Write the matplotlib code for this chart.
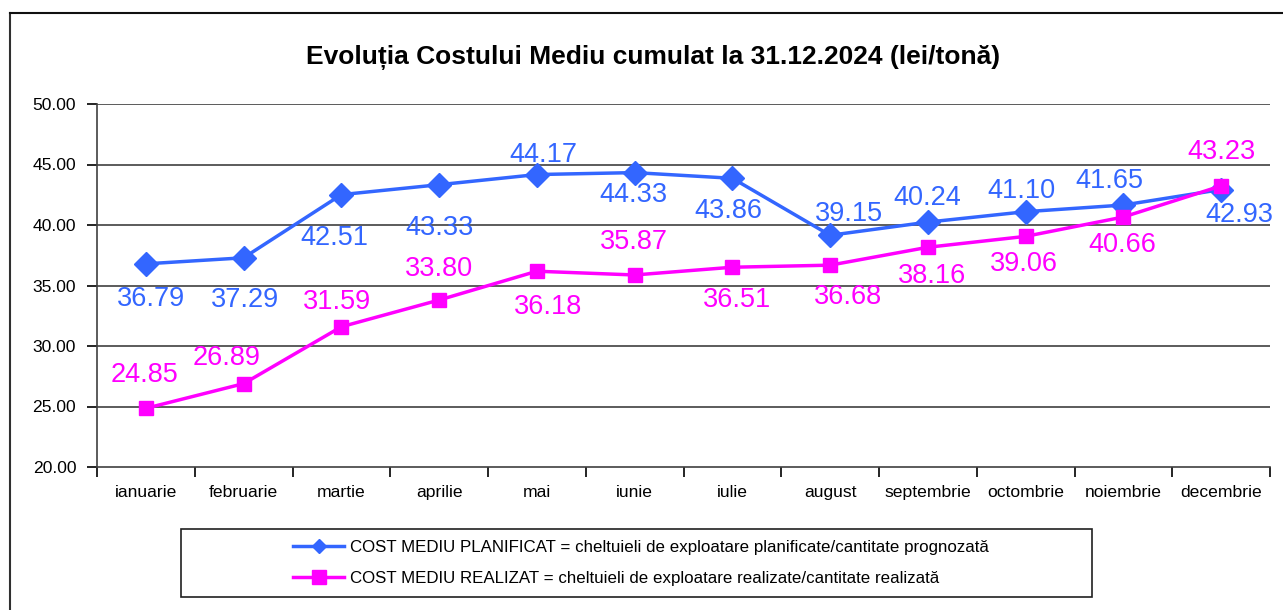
import matplotlib
matplotlib.use("Agg")
import matplotlib.pyplot as plt
import numpy as np
from matplotlib.lines import Line2D
from matplotlib.patches import Rectangle

luni = ["ianuarie", "februarie", "martie", "aprilie", "mai", "iunie", "iulie",
        "august", "septembrie", "octombrie", "noiembrie", "decembrie"]
planificat = [36.79, 37.29, 42.51, 43.33, 44.17, 44.33, 43.86, 39.15, 40.24, 41.10, 41.65, 42.93]
realizat = [24.85, 26.89, 31.59, 33.80, 36.18, 35.87, 36.51, 36.68, 38.16, 39.06, 40.66, 43.23]
eticheta_plan = "COST MEDIU PLANIFICAT = cheltuieli de exploatare planificate/cantitate prognozată"
eticheta_real = "COST MEDIU REALIZAT = cheltuieli de exploatare realizate/cantitate realizată"
titlu = "Evoluția Costului Mediu cumulat la 31.12.2024 (lei/tonă)"

# label offsets in pixels (dx, dy), dy positive = below the point
off_plan = [(5, 33), (1, 40), (-7, 41), (0, 41), (7, -22), (-1, 20), (-4, 31),
            (19, -23), (-1, -26), (-4, -23), (-14, -26), (18, 23)]
off_real = [(-1, -35), (-17, -28), (-4, -27), (0, -33), (11, 34), (-1, -35), (5, 31),
            (18, 30), (4, 27), (-2, 26), (-1, 26), (0, -36)]

albastru = "#3366FF"
magenta = "#FF00FF"

plt.rcParams["font.family"] = ["Liberation Sans", "DejaVu Sans"]

W, H = 1283, 610
fig = plt.figure(figsize=(W / 100, H / 100), dpi=100)
ax = fig.add_axes([97 / W, 1 - 467 / H, (1270 - 97) / W, (467 - 104) / H])

x = np.arange(len(luni))
ax.plot(x, planificat, color=albastru, lw=2.5, marker="D", ms=12, mec=albastru, zorder=3)
ax.plot(x, realizat, color=magenta, lw=2.5, marker="s", ms=10, mec=magenta, zorder=3)

for i in range(len(luni)):
    dx, dy = off_plan[i]
    ax.annotate(f"{planificat[i]:.2f}", (x[i], planificat[i]), xytext=(dx, -(dy + 9)),
                textcoords="offset pixels", ha="center", va="baseline",
                fontsize=19.5, color=albastru)
    dx, dy = off_real[i]
    ax.annotate(f"{realizat[i]:.2f}", (x[i], realizat[i]), xytext=(dx, -(dy + 9)),
                textcoords="offset pixels", ha="center", va="baseline",
                fontsize=19.5, color=magenta)

ax.set_xlim(-0.5, len(luni) - 0.5)
ax.set_ylim(20, 50)
ax.set_yticks(np.arange(20, 51, 5))
ax.set_yticklabels([f"{v:.2f}" for v in np.arange(20, 51, 5)])
ax.set_xticks(np.arange(-0.5, len(luni)))
ax.set_xticklabels([])
ax.set_xticks(x, minor=True)
ax.set_xticklabels(luni, minor=True)
ax.tick_params(axis="x", which="major", length=7, width=1.2, direction="out")
ax.tick_params(axis="x", which="minor", length=0, pad=13, labelsize=12.6)
ax.tick_params(axis="y", length=7, width=1.2, direction="out", pad=8, labelsize=12.6)

for v in range(25, 51, 5):
    ax.axhline(v, color="#404040", lw=1.2, zorder=1)
for s in ["top", "right"]:
    ax.spines[s].set_visible(False)
for s in ["left", "bottom"]:
    ax.spines[s].set_color("#404040")
    ax.spines[s].set_linewidth(1.2)

fig.text(653 / W, 1 - 58 / H, titlu, ha="center", va="center", fontsize=19, weight="bold")

# legend box
fig.patches.append(Rectangle((181 / W, 1 - 597 / H), (1092 - 181) / W, (597 - 529) / H,
                             transform=fig.transFigure, fill=False, ec="#202020", lw=1.2))
handles = [Line2D([], [], color=albastru, lw=2.5, marker="D", ms=7),
           Line2D([], [], color=magenta, lw=2.5, marker="s", ms=10)]
fig.legend(handles, [eticheta_plan, eticheta_real], loc="center", bbox_to_anchor=(641 / W, 1 - 563 / H),
           frameon=False, fontsize=12.2, handlelength=3.0, handletextpad=0.35, labelspacing=0.9)

# outer chart frame
fig.add_artist(Line2D([10 / W, 10 / W], [0, 1 - 13 / H], transform=fig.transFigure, color="#303030", lw=1.5))
fig.add_artist(Line2D([10 / W, 1], [1 - 13 / H, 1 - 13 / H], transform=fig.transFigure, color="#101010", lw=1.5))

fig.savefig("out.png", dpi=100)
